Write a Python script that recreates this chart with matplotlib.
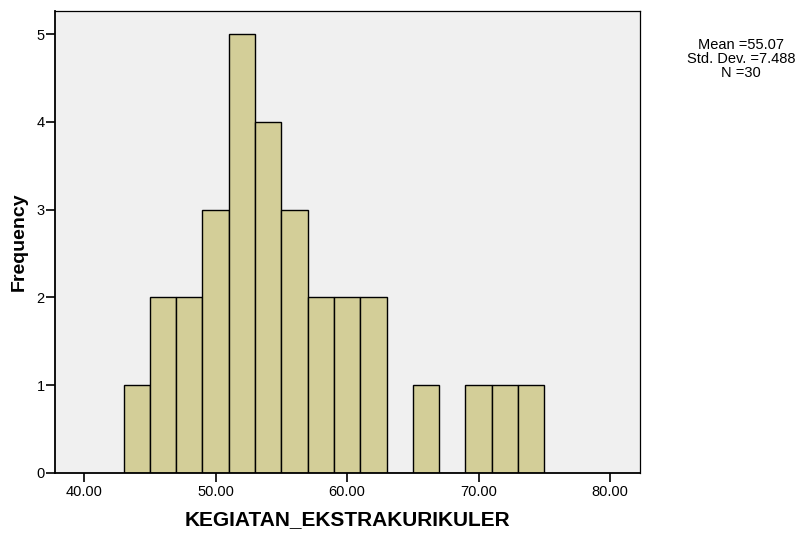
import matplotlib
matplotlib.use("Agg")
import matplotlib.pyplot as plt

# histogram bins (width 2) and frequencies
bin_left = [43, 45, 47, 49, 51, 53, 55, 57, 59, 61, 63, 65, 67, 69, 71, 73]
counts = [1, 2, 2, 3, 5, 4, 3, 2, 2, 2, 0, 1, 0, 1, 1, 1]
bin_width = 2
x_ticks = [40, 50, 60, 70, 80]
y_ticks = [0, 1, 2, 3, 4, 5]
stats_text = "Mean =55.07\nStd. Dev. =7.488\nN =30"

plt.rcParams["font.family"] = ["Liberation Sans", "DejaVu Sans"]

fig = plt.figure(figsize=(8, 5.33), dpi=100)
ax = fig.add_axes([0.069, 0.1126, 0.731, 0.8664])
ax.set_facecolor("#f0f0f0")

ax.bar(bin_left, counts, width=bin_width, align="edge",
       color="#d3ce98", edgecolor="black", linewidth=1.0)

ax.set_xlim(37.8, 82.28)
ax.set_ylim(0, 5.26)
ax.set_xticks(x_ticks)
ax.set_xticklabels([f"{v:.2f}" for v in x_ticks])
ax.set_yticks(y_ticks)
ax.tick_params(axis="both", direction="out", length=6.5, width=1.2,
               labelsize=10.5, colors="black")
ax.tick_params(axis="x", pad=2)
ax.tick_params(axis="y", pad=1)

for side in ["left", "bottom"]:
    ax.spines[side].set_linewidth(1.3)
for side in ["top", "right"]:
    ax.spines[side].set_linewidth(0.9)

ax.set_xlabel("KEGIATAN_EKSTRAKURIKULER", fontsize=15, fontweight="bold")
ax.xaxis.set_label_coords(0.5, -0.08)
ax.set_ylabel("Frequency", fontsize=14, fontweight="bold", labelpad=6)

fig.text(0.926, 0.889, stats_text, ha="center", va="center", fontsize=10.5,
         linespacing=1.0)

fig.savefig("out.png", dpi=100)
